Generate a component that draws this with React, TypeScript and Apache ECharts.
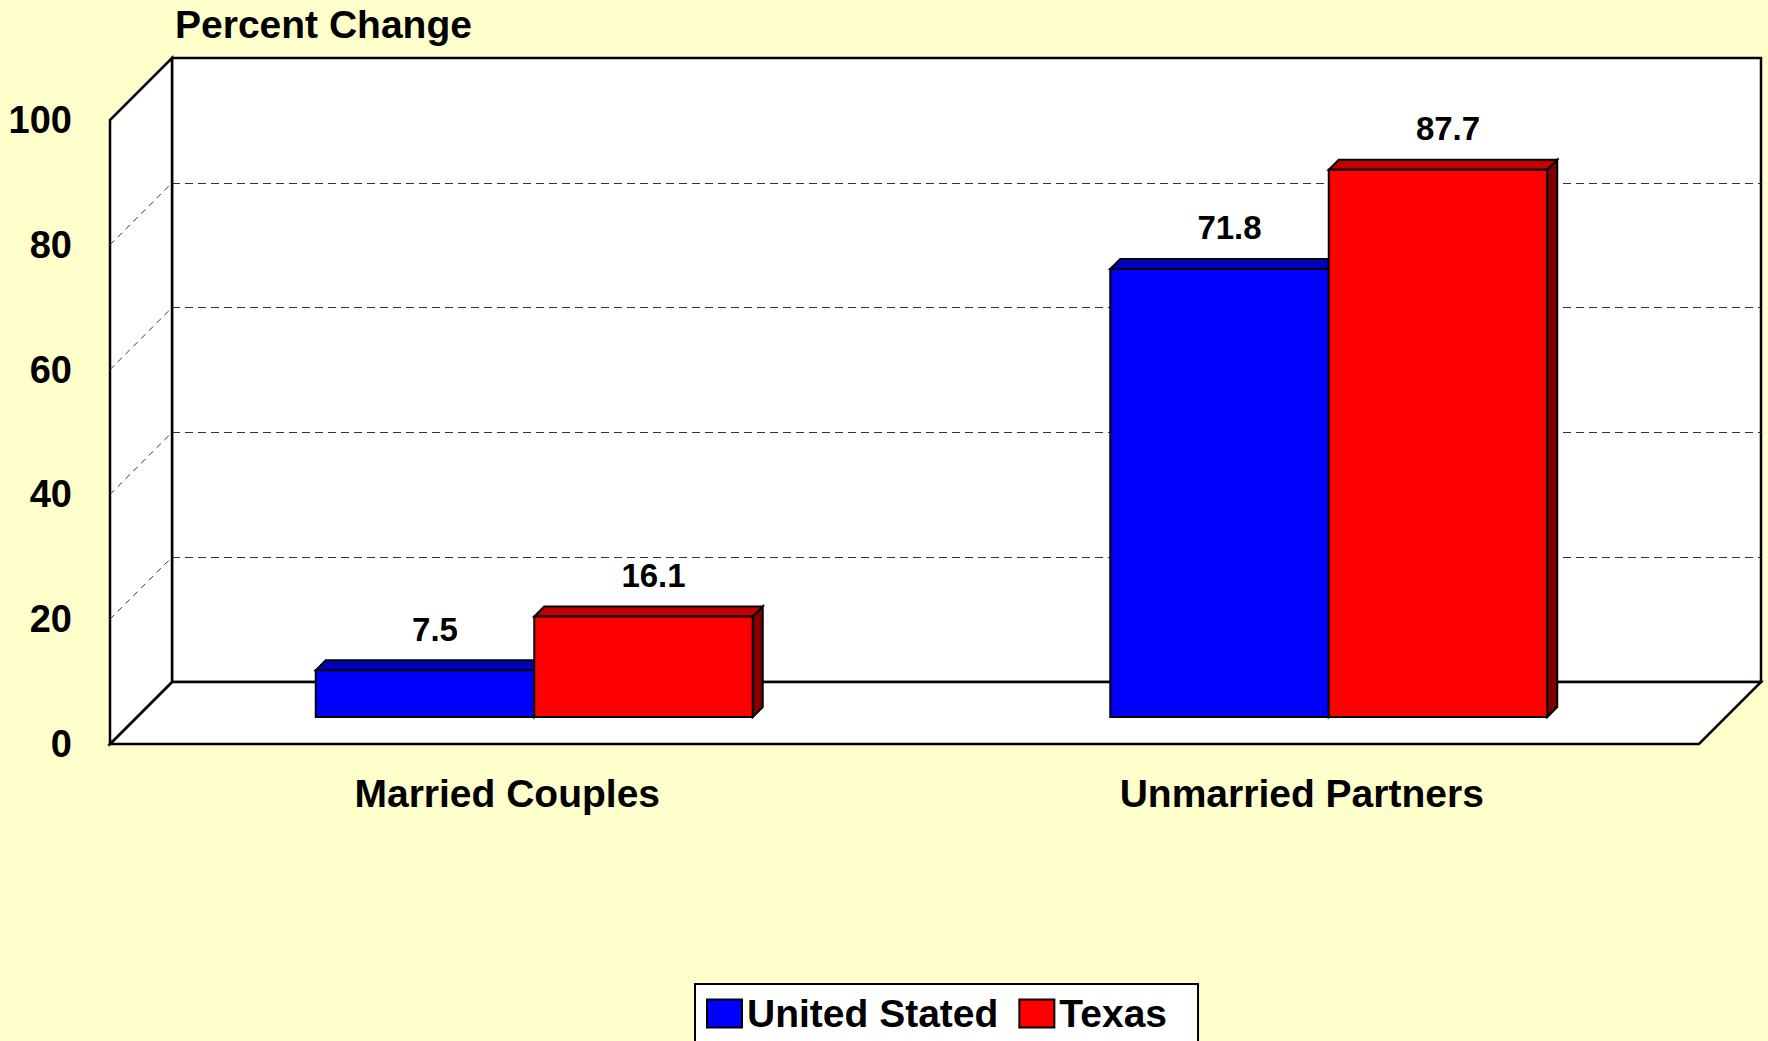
import React, { useEffect, useRef } from "react";
import * as echarts from "echarts";

// ---- data ----
const categories = ["Married Couples", "Unmarried Partners"];
const seriesNames = ["United Stated", "Texas"];
const unitedStates = [7.5, 71.8];
const texas = [16.1, 87.7];
const yTicks = [0, 20, 40, 60, 80, 100];

// ---- layout ----
const FONT = '"Liberation Sans", Arial, sans-serif';
const FRONT_L = 110;
const FRONT_T = 120;
const PLOT_W = 1589;
const PLOT_H = 624;
const DEPTH = 62; // wall depth (dx = +DEPTH, dy = -DEPTH)
const BAR_Z = 27; // bar plane depth
const DD = 10; // bar depth
const BAR_FRAC = 0.275;

const colorsUS = { front: "#0000FF", top: "#0000C0", side: "#000080" };
const colorsTX = { front: "#FF0000", top: "#C00000", side: "#800000" };

function makeSeries(name: string, values: number[], side: number, colors: any) {
  return {
    type: "custom",
    name,
    xAxisIndex: 2,
    yAxisIndex: 2,
    z: 3,
    itemStyle: { color: colors.front, borderColor: "#000", borderWidth: 2 },
    data: values.map((v, i) => [i, v]),
    encode: { x: 0, y: 1 },
    renderItem: (params: any, api: any) => {
      const i = api.value(0);
      const v = api.value(1);
      const top = api.coord([i, v]);
      const base = api.coord([i, 0]);
      const band = api.size([1, 0])[0];
      const w = band * BAR_FRAC;
      const x1 = side < 0 ? top[0] - w : top[0];
      const x2 = x1 + w;
      const y1 = top[1];
      const y0 = base[1];
      return {
        type: "group",
        children: [
          {
            type: "polygon",
            shape: { points: [[x2, y1], [x2 + DD, y1 - DD], [x2 + DD, y0 - DD], [x2, y0]] },
            style: { fill: colors.side, stroke: "#000", lineWidth: 2 },
          },
          {
            type: "polygon",
            shape: { points: [[x1, y1], [x1 + DD, y1 - DD], [x2 + DD, y1 - DD], [x2, y1]] },
            style: { fill: colors.top, stroke: "#000", lineWidth: 2 },
          },
          {
            type: "rect",
            shape: { x: x1, y: y1, width: w, height: y0 - y1 },
            style: { fill: colors.front, stroke: "#000", lineWidth: 2 },
          },
          {
            type: "text",
            x: (x1 + x2) / 2 + DD,
            y: y1 - DD - 31,
            style: {
              text: String(v),
              align: "center",
              verticalAlign: "middle",
              fontSize: 33,
              fontWeight: "bold",
              fontFamily: FONT,
              fill: "#000",
            },
          },
        ],
      };
    },
  };
}

export default function App() {
  const ref = useRef<HTMLDivElement>(null);
  useEffect(() => {
    document.body.style.margin = "0";
    const chart = echarts.init(ref.current!, null, { renderer: "svg" });
    const hiddenAxis = {
      axisLine: { show: false },
      axisTick: { show: false },
      axisLabel: { show: false },
      splitLine: { show: false },
    };
    const option: any = {
      animation: false,
      backgroundColor: "#FFFFCC",
      title: {
        text: "Percent Change",
        left: 175,
        top: 5,
        padding: 0,
        textStyle: { fontSize: 39, fontWeight: "bold", fontFamily: FONT, color: "#000" },
      },
      legend: {
        left: 695,
        top: 984,
        orient: "horizontal",
        padding: [10, 31, 10, 11],
        itemGap: 20,
        itemWidth: 35,
        itemHeight: 28,
        backgroundColor: "#FFFFFF",
        borderColor: "#000",
        borderWidth: 2,
        borderRadius: 0,
        icon: "rect",
        textStyle: { fontSize: 39, fontWeight: "bold", fontFamily: FONT, color: "#000", padding: [0, 0, 0, 0] },
        data: [
          { name: seriesNames[0], itemStyle: { color: colorsUS.front, borderColor: "#000", borderWidth: 2 } },
          { name: seriesNames[1], itemStyle: { color: colorsTX.front, borderColor: "#000", borderWidth: 2 } },
        ],
      },
      grid: [
        { left: FRONT_L, top: FRONT_T, width: PLOT_W, height: PLOT_H },
        {
          left: FRONT_L + DEPTH,
          top: FRONT_T - DEPTH,
          width: PLOT_W,
          height: PLOT_H,
          show: true,
          backgroundColor: "#FFFFFF",
          borderColor: "#000",
          borderWidth: 2.5,
        },
        { left: FRONT_L + BAR_Z, top: FRONT_T - BAR_Z, width: PLOT_W, height: PLOT_H },
      ],
      xAxis: [
        {
          gridIndex: 0,
          type: "category",
          data: categories,
          axisLine: { show: false },
          axisTick: { show: false },
          splitLine: { show: false },
          axisLabel: { margin: 30, fontSize: 39, fontWeight: "bold", fontFamily: FONT, color: "#000" },
        },
        { gridIndex: 1, type: "category", data: categories, ...hiddenAxis },
        { gridIndex: 2, type: "category", data: categories, ...hiddenAxis },
      ],
      yAxis: [
        {
          gridIndex: 0,
          type: "value",
          min: yTicks[0],
          max: yTicks[yTicks.length - 1],
          interval: 20,
          axisLine: { show: false },
          axisTick: { show: false },
          splitLine: { show: false },
          axisLabel: { margin: 38, fontSize: 38, fontWeight: "bold", fontFamily: FONT, color: "#000" },
        },
        {
          gridIndex: 1,
          type: "value",
          min: yTicks[0],
          max: yTicks[yTicks.length - 1],
          interval: 20,
          axisLine: { show: false },
          axisTick: { show: false },
          axisLabel: { show: false },
          splitLine: {
            show: true,
            showMinLine: false,
            showMaxLine: false,
            lineStyle: { color: "#333", width: 1.2, type: [8, 5] },
          },
        },
        {
          gridIndex: 2,
          type: "value",
          min: yTicks[0],
          max: yTicks[yTicks.length - 1],
          interval: 20,
          ...hiddenAxis,
        },
      ],
      series: [makeSeries(seriesNames[0], unitedStates, -1, colorsUS), makeSeries(seriesNames[1], texas, 1, colorsTX)],
    };
    chart.setOption(option);

    // walls built from the front plane's scale
    const yOf = (v: number) => chart.convertToPixel({ yAxisIndex: 0 }, v) as number;
    const yBase = yOf(yTicks[0]);
    const yTop = yOf(yTicks[yTicks.length - 1]);
    const xL = FRONT_L;
    const xR = FRONT_L + PLOT_W;
    const wallStyle = { fill: "#FFFFFF", stroke: "#000", lineWidth: 2.5 };
    const elements: any[] = [
      {
        type: "polygon",
        z: 1,
        shape: { points: [[xL, yBase], [xR, yBase], [xR + DEPTH, yBase - DEPTH], [xL + DEPTH, yBase - DEPTH]] },
        style: wallStyle,
      },
      {
        type: "polygon",
        z: 1,
        shape: { points: [[xL, yBase], [xL, yTop], [xL + DEPTH, yTop - DEPTH], [xL + DEPTH, yBase - DEPTH]] },
        style: wallStyle,
      },
    ];
    yTicks.slice(1, -1).forEach((v) => {
      const y = yOf(v);
      elements.push({
        type: "line",
        z: 1,
        shape: { x1: xL, y1: y, x2: xL + DEPTH, y2: y - DEPTH },
        style: { stroke: "#333", lineWidth: 1, lineDash: [6, 5] },
      });
    });
    chart.setOption({ graphic: { elements } });

    return () => chart.dispose();
  }, []);
  return (
    <div
      ref={ref}
      style={{ position: "fixed", left: 0, top: 0, width: 1768, height: 1041, background: "#FFFFCC" }}
    />
  );
}
